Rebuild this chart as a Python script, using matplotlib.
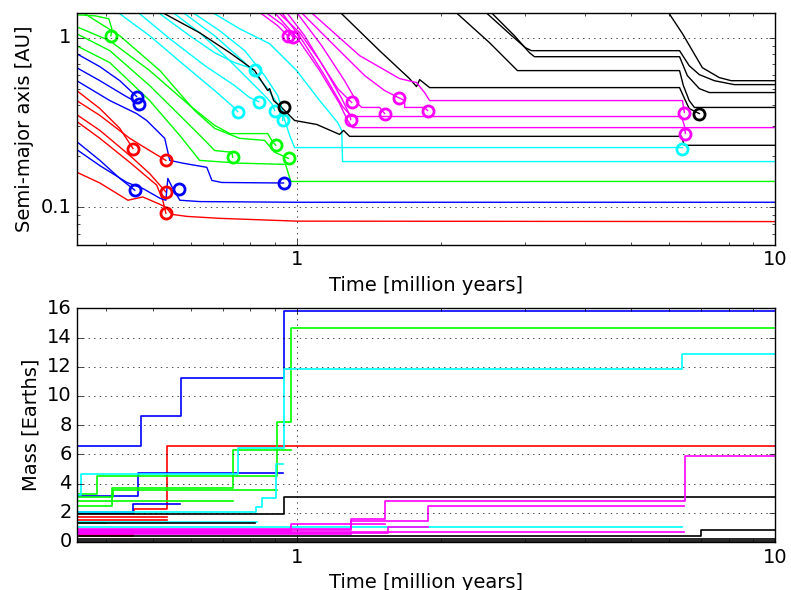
import matplotlib
matplotlib.use('Agg')
import matplotlib.pyplot as plt
from matplotlib.ticker import FuncFormatter, NullFormatter, MultipleLocator

RED = '#ff0000'
BLUE = '#0000ff'
GREEN = '#00ff00'
CYAN = '#00ffff'
MAGENTA = '#ff00ff'
BLACK = '#000000'

# semi-major axis tracks, (time [Myr], a [AU])
red_a = [
  [(0.347,0.488),(0.388,0.382),(0.427,0.292),(0.455,0.222)],
  [(0.347,0.426),(0.388,0.348),(0.448,0.255),(0.493,0.216),(0.533,0.189)],
  [(0.347,0.352),(0.388,0.284),(0.448,0.202),(0.493,0.158),(0.533,0.123)],
  [(0.347,0.321),(0.388,0.255),(0.448,0.184),(0.510,0.135),(0.525,0.110),(0.533,0.0922)],
  [(0.347,0.161),(0.388,0.139),(0.444,0.110),(0.477,0.115),(0.518,0.104),(0.533,0.100),
   (0.548,0.0908),(0.590,0.0883),(0.691,0.0860),(1.0,0.0828),(10,0.0823)],
]
red_circ = [(0.455,0.222),(0.533,0.189),(0.533,0.123),(0.533,0.0922)]

blue_a = [
  [(0.347,0.805),(0.388,0.675),(0.427,0.558),(0.463,0.450)],
  [(0.347,0.666),(0.388,0.558),(0.437,0.456),(0.468,0.409)],
  [(0.347,0.558),(0.407,0.426),(0.463,0.357),(0.486,0.325),(0.530,0.255),(0.543,0.189),
   (0.578,0.182),(0.649,0.172),(0.665,0.144),(0.697,0.140),(0.939,0.139)],
  [(0.347,0.244),(0.388,0.189),(0.427,0.148),(0.459,0.126)],
  [(0.347,0.219),(0.388,0.176),(0.442,0.140),(0.477,0.129),(0.518,0.113),(0.533,0.110),
   (0.538,0.148),(0.548,0.133),(0.570,0.110),(0.627,0.108),(1.0,0.107),(10,0.107)],
]
blue_circ = [(0.463,0.450),(0.468,0.409),(0.939,0.139),(0.459,0.126),(0.567,0.128)]

green_a = [
  [(0.347,1.366),(0.379,1.347),(0.405,1.294),(0.411,1.130),(0.409,1.027)],
  [(0.347,1.161),(0.407,0.960),(0.493,0.640),(0.598,0.398),(0.674,0.304),(0.725,0.272),
   (0.870,0.272),(0.887,0.248),(0.904,0.232)],
  [(0.347,1.056),(0.407,0.839),(0.493,0.522),(0.584,0.325),(0.643,0.248),(0.674,0.216),
   (0.732,0.211),(0.735,0.197)],
  [(0.347,0.897),(0.407,0.713),(0.493,0.426),(0.570,0.265),(0.627,0.189),(0.760,0.182),
   (0.948,0.179),(0.972,0.142),(10,0.142)],
  [(0.361,1.384),(0.427,1.027),(0.518,0.640),(0.612,0.372),(0.674,0.292),(0.760,0.255),
   (0.857,0.248),(0.900,0.211),(0.962,0.194)],
]
green_circ = [(0.409,1.027),(0.904,0.232),(0.735,0.197),(0.962,0.194)]

cyan_a = [
  [(0.427,1.384),(0.493,1.027),(0.584,0.684),(0.674,0.488),(0.732,0.398),(0.753,0.367)],
  [(0.470,1.384),(0.543,0.987),(0.643,0.684),(0.742,0.522),(0.798,0.443),(0.833,0.420)],
  [(0.518,1.384),(0.598,1.027),(0.674,0.816),(0.742,0.713),(0.798,0.666),(0.817,0.648)],
  [(0.556,1.384),(0.627,1.070),(0.707,0.784),(0.798,0.558),(0.857,0.456),(0.887,0.409),(0.900,0.372)],
  [(0.612,1.384),(0.691,1.099),(0.779,0.839),(0.857,0.598),(0.913,0.456),(0.935,0.372),(0.935,0.325)],
  [(0.674,1.384),(0.760,1.130),(0.878,0.922),(1.0,0.640),(1.117,0.426),(1.218,0.316),
   (1.242,0.284),(1.247,0.186),(10,0.186)],
  [(0.584,1.384),(0.674,1.027),(0.779,0.713),(0.870,0.501),(0.930,0.372),(0.967,0.265),
   (0.990,0.225),(6.40,0.225)],
]
cyan_circ = [(0.753,0.367),(0.833,0.420),(0.817,0.648),(0.900,0.372),(0.935,0.325),(6.40,0.222)]

black_a = [
  [(0.530,1.384),(0.627,1.070),(0.725,0.816),(0.817,0.640),(0.870,0.488),(0.878,0.501),
   (0.895,0.426),(0.935,0.382),(0.990,0.325),(1.101,0.308),(1.229,0.269),(1.253,0.284),
   (1.290,0.262),(6.366,0.262),(6.457,0.232),(10,0.232)],
  [(1.242,1.384),(1.490,0.839),(1.721,0.574),(1.780,0.515),(1.807,0.566),(1.896,0.508),
   (6.31,0.508),(6.49,0.426),(6.61,0.382),(6.94,0.357)],
  [(2.168,1.384),(2.529,0.935),(2.893,0.640),(6.31,0.640),(6.427,0.522),(6.61,0.426),
   (6.776,0.388),(10,0.388)],
  [(2.566,1.384),(2.852,1.027),(3.065,0.816),(3.139,0.773),(6.31,0.773),(6.55,0.598),
   (6.94,0.501),(7.28,0.475),(10,0.475)],
  [(2.504,1.384),(2.784,1.056),(3.007,0.873),(3.094,0.839),(6.31,0.839),(6.61,0.684),
   (6.94,0.606),(7.46,0.558),(8.21,0.529),(10,0.529)],
  [(6.007,1.384),(6.40,1.056),(7.041,0.666),(7.64,0.582),(8.09,0.558),(10,0.558)],
]
black_circ = [(0.939,0.388),(6.94,0.357)]

magenta_a = [
  [(0.845,1.384),(0.913,1.176),(0.958,1.027)],
  [(0.870,1.384),(0.935,1.192),(0.981,1.014)],
  [(0.922,1.384),(1.015,1.070),(1.117,0.732),(1.218,0.501),(1.303,0.415)],
  [(0.958,1.384),(1.039,1.027),(1.144,0.657),(1.242,0.438),(1.290,0.352),(1.297,0.329)],
  [(0.904,1.384),(1.005,0.987),(1.117,0.640),(1.229,0.409),(1.278,0.325),(1.309,0.295),(10,0.295)],
  [(0.935,1.384),(1.029,0.960),(1.144,0.598),(1.247,0.393),(1.303,0.343),(6.366,0.343),
   (6.457,0.304),(6.49,0.272)],
  [(1.080,1.384),(1.354,0.784),(1.641,0.574),(1.780,0.544),(1.850,0.475),(1.896,0.426),
   (6.40,0.426),(6.457,0.362)],
  [(1.029,1.384),(1.200,0.897),(1.387,0.598),(1.527,0.488),(1.633,0.443),(1.681,0.426),
   (1.681,0.388),(1.850,0.388),(1.877,0.372)],
  [(1.005,1.384),(1.128,0.897),(1.259,0.558),(1.341,0.409),(1.367,0.388),(1.490,0.388),(1.527,0.357)],
]
magenta_circ = [(0.958,1.027),(0.981,1.014),(1.303,0.415),(1.297,0.329),(6.49,0.272),
                (6.457,0.362),(1.633,0.443),(1.877,0.372),(1.527,0.357)]

# mass histories, (time [Myr], mass [Earths]) step values
red_m = [
  [(0.347,2.0),(0.458,2.27),(0.535,6.6),(10,6.6)],
  [(0.347,1.72),(0.535,1.72)],
  [(0.347,1.5),(0.535,1.5)],
  [(0.347,0.55),(0.455,0.55)],
  [(0.347,0.42),(0.455,0.42)],
]
blue_m = [
  [(0.347,6.6),(0.472,8.6),(0.572,11.2),(0.94,15.85),(10,15.85)],
  [(0.347,2.04),(0.455,2.6),(0.57,2.6)],
  [(0.347,3.18),(0.466,4.74),(0.937,4.74)],
  [(0.347,1.95),(0.455,1.95)],
  [(0.347,0.82),(0.455,0.82)],
]
green_m = [
  [(0.347,3.3),(0.382,4.53),(0.908,8.24),(0.972,14.63),(10,14.63)],
  [(0.347,2.47),(0.411,3.71),(0.735,6.32),(0.972,6.32)],
  [(0.347,2.84),(0.735,2.84)],
  [(0.347,3.1),(0.413,3.55),(0.908,3.55)],
  [(0.347,1.28),(0.40,1.28)],
]
cyan_m = [
  [(0.347,3.2),(0.355,4.67),(0.755,6.45),(0.94,11.83),(6.40,12.84),(10,12.84)],
  [(0.347,2.06),(0.823,2.4),(0.845,3.0),(0.905,5.36),(0.935,5.36)],
  [(0.347,1.05),(6.40,1.05)],
  [(0.347,1.37),(0.825,1.37)],
  [(0.347,0.68),(0.735,0.68)],
]
black_m = [
  [(0.347,1.9),(0.94,3.08),(10,3.08)],
  [(0.347,1.28),(0.82,1.28)],
  [(0.347,0.43),(7.01,0.82),(10,0.82)],
  [(0.347,0.22),(10,0.22)],
  [(0.347,0.1),(10,0.1)],
]
magenta_m = [
  [(0.347,0.89),(1.30,1.58),(1.527,2.82),(6.49,5.91),(10,5.91)],
  [(0.347,0.80),(1.30,1.46),(1.877,2.49),(6.45,2.49)],
  [(0.347,0.75),(0.975,1.24),(1.527,1.24)],
  [(0.347,0.6),(1.55,1.03),(1.877,1.03)],
  [(0.347,0.68),(6.45,0.68)],
  [(0.347,0.55),(1.30,0.55)],
]

plt.style.use('classic')
plt.rcParams['figure.facecolor'] = 'white'
plt.rcParams['savefig.facecolor'] = 'white'
plt.rcParams['font.size'] = 14

fig = plt.figure(figsize=(7.91, 5.9), dpi=100)
ax1 = fig.add_axes([0.0977, 0.585, 0.8824, 0.393])
ax2 = fig.add_axes([0.0977, 0.0814, 0.8824, 0.396])

#top panel: orbits
for color, tracks in [(RED, red_a), (BLUE, blue_a), (GREEN, green_a),
                      (CYAN, cyan_a), (BLACK, black_a), (MAGENTA, magenta_a)]:
  for tr in tracks:
    t, a = zip(*tr)
    ax1.plot(t, a, color=color, lw=1.0)

for color, pts in [(RED, red_circ), (BLUE, blue_circ), (GREEN, green_circ),
                   (CYAN, cyan_circ), (BLACK, black_circ), (MAGENTA, magenta_circ)]:
  t, a = zip(*pts)
  ax1.plot(t, a, 'o', mfc='none', mec=color, ms=8, mew=2)

#bottom panel: masses
for color, tracks in [(RED, red_m), (BLUE, blue_m), (GREEN, green_m),
                      (CYAN, cyan_m), (BLACK, black_m), (MAGENTA, magenta_m)]:
  for tr in tracks:
    t, m = zip(*tr)
    ax2.plot(t, m, color=color, lw=1.2, drawstyle='steps-post')

fmt = FuncFormatter(lambda v, p: '%g' % v)

ax1.set_xscale('log')
ax1.set_yscale('log')
ax1.set_xlim(0.348, 10)
ax1.set_ylim(0.06, 1.4)
ax1.xaxis.set_major_formatter(fmt)
ax1.xaxis.set_minor_formatter(NullFormatter())
ax1.yaxis.set_major_formatter(fmt)
ax1.yaxis.set_minor_formatter(NullFormatter())
ax1.grid(True)
ax1.set_xlabel('Time [million years]')
ax1.set_ylabel('Semi-major axis [AU]')

ax2.set_xscale('log')
ax2.set_xlim(0.348, 10)
ax2.set_ylim(0, 16)
ax2.yaxis.set_major_locator(MultipleLocator(2))
ax2.xaxis.set_major_formatter(fmt)
ax2.xaxis.set_minor_formatter(NullFormatter())
ax2.grid(True)
ax2.set_xlabel('Time [million years]')
ax2.set_ylabel('Mass [Earths]')

fig.savefig('out.png', dpi=100)
